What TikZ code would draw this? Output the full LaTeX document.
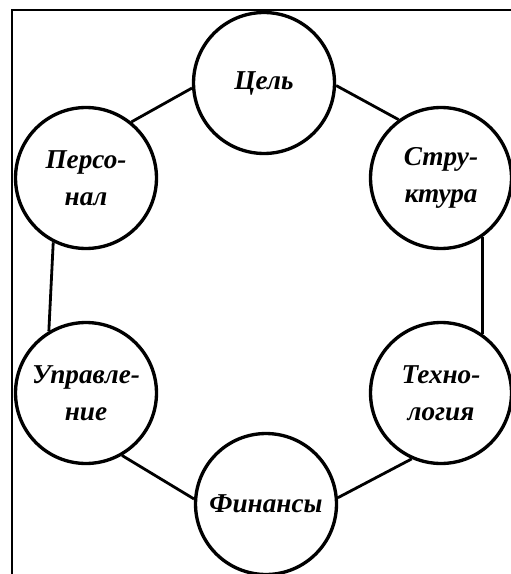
\documentclass[tikz,border=0pt]{standalone}
\usepackage{fontspec}
\setmainfont{Liberation Serif}

\begin{document}
\begin{tikzpicture}[x=0.02cm, y=-0.02cm,
	every node/.style={font=\fontsize{15.5}{21}\selectfont\bfseries\itshape},
	part/.style={draw, circle, line width=1.9pt, minimum size=2.82cm, inner sep=0pt, align=center},
	link/.style={line width=1.6pt}]
	\useasboundingbox (0,0) rectangle (510,574);
	\draw[line width=1.2pt] (12,600) -- (12,10) -- (530,10);
	\node[part] (cel) at (264,83) {Цель};
	\node[part] (struk) at (441,178) {Стру-\\ктура};
	\node[part] (tehn) at (441,393) {Техно-\\логия};
	\node[part] (fin) at (266,504) {Финансы};
	\node[part] (upr) at (86,393) {Управле-\\ние};
	\node[part] (pers) at (86,178) {Персо-\\нал};
	
	\draw[link] (cel.-2) -- (struk.126);
	\draw[link] (struk.-55) -- (tehn.55);
	\draw[link] (tehn.-114) -- (fin.5);
	\draw[link] (fin.176) -- (upr.-60);
	\draw[link] (upr.121) -- (pers.-117);
	\draw[link] (pers.51) -- (cel.184);
\end{tikzpicture}
\end{document}
